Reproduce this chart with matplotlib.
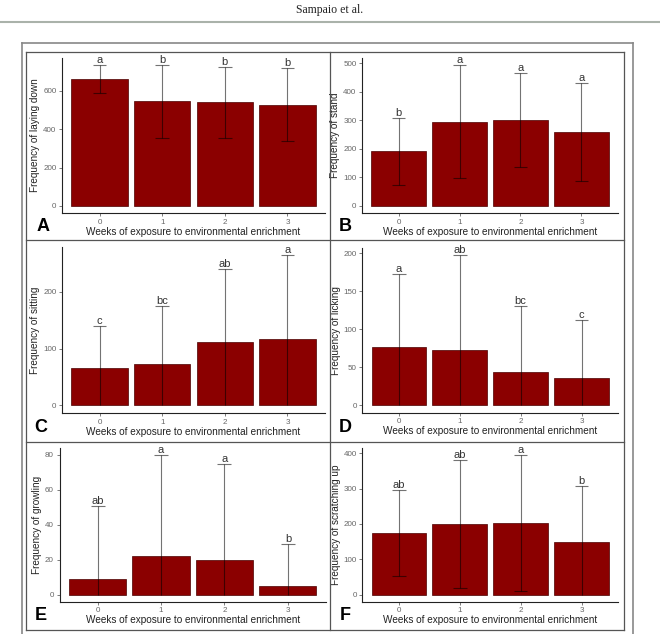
import numpy as np
import matplotlib
matplotlib.use("Agg")
import matplotlib.pyplot as plt
from matplotlib.lines import Line2D
from matplotlib.ticker import MultipleLocator

plt.rcParams['font.family'] = ['Liberation Sans', 'DejaVu Sans']

weeks = ['0', '1', '2', '3']

lay_mean = [659, 545, 539, 527]
lay_sd = [73, 189, 187, 190]
lay_lbl = ['a', 'b', 'b', 'b']

stand_mean = [191, 295, 301, 258]
stand_sd = [117, 198, 163, 171]
stand_lbl = ['b', 'a', 'a', 'a']

sit_mean = [66, 73, 112, 117]
sit_sd = [73, 101, 127, 148]
sit_lbl = ['c', 'bc', 'ab', 'a']

lick_mean = [76, 72, 44, 35]
lick_sd = [96, 125, 86, 77]
lick_lbl = ['a', 'ab', 'bc', 'c']

growl_mean = [9, 22, 20, 5]
growl_sd = [41.5, 58, 55, 24]
growl_lbl = ['ab', 'a', 'a', 'b']

scratch_mean = [174, 199, 203, 150]
scratch_sd = [122, 181, 192, 157]
scratch_lbl = ['ab', 'ab', 'a', 'b']

W, H = 660, 634
fig = plt.figure(figsize=(W / 100, H / 100), dpi=100)


def fx(px):
    return px / W


def fy(py):
    return 1 - py / H


def hline(y, x0, x1, **kw):
    fig.add_artist(Line2D([fx(x0), fx(x1)], [fy(y), fy(y)], transform=fig.transFigure, **kw))


def vline(x, y0, y1, **kw):
    fig.add_artist(Line2D([fx(x), fx(x)], [fy(y0), fy(y1)], transform=fig.transFigure, **kw))


# page header
fig.text(0.5, fy(10), 'Sampaio et al.', ha='center', va='center', fontsize=8.5,
         family='Liberation Serif', color='#222222')
hline(22, 0, W, color='#aab2aa', lw=1.5)

# outer + inner frame of the figure table
fcol = '#888888'
hline(43, 22, 633, color=fcol, lw=1.2)
vline(22, 43, 640, color=fcol, lw=1.2)
vline(633, 43, 640, color=fcol, lw=1.2)
icol = '#555555'
hline(52, 25.5, 624, color=icol, lw=0.9)
hline(630, 25.5, 624, color=icol, lw=0.9)
vline(25.5, 52, 630, color=icol, lw=0.9)
vline(624, 52, 630, color=icol, lw=0.9)
vline(330, 52, 630, color=icol, lw=0.9)
hline(240, 25.5, 624, color=icol, lw=0.9)
hline(442, 25.5, 624, color=icol, lw=0.9)


def panel(box, means, sds, lbls, ylabel, step, letter, letter_xy):
    left, top, right, bottom = box
    ax = fig.add_axes([fx(left), fy(bottom), fx(right) - fx(left), (bottom - top) / H])
    x = np.arange(len(weeks))
    means = np.array(means, dtype=float)
    sds = np.array(sds, dtype=float)
    lo = np.maximum(means - sds, 0)
    hi = means + sds
    ax.bar(x, means, width=0.9, color='#8b0000', edgecolor='#4a0000', linewidth=0.5, zorder=2)
    ecol = (0, 0, 0, 0.55)
    ax.vlines(x, lo, hi, colors=[ecol], linewidth=0.8, zorder=3)
    cw = 0.11
    ax.hlines(hi, x - cw, x + cw, colors=[ecol], linewidth=0.8, zorder=3)
    keep = lo > 0
    ax.hlines(lo[keep], x[keep] - cw, x[keep] + cw, colors=[ecol], linewidth=0.8, zorder=3)
    top_val = hi.max()
    ax.set_ylim(-0.05 * top_val, 1.05 * top_val)
    ax.set_xlim(-0.6, len(weeks) - 0.4)
    for xi, h, t in zip(x, hi, lbls):
        ax.text(xi, h, t, ha='center', va='bottom', fontsize=8, color='#333333')
    ax.set_xticks(x)
    ax.set_xticklabels(weeks)
    ax.yaxis.set_major_locator(MultipleLocator(step))
    for s in ['top', 'right']:
        ax.spines[s].set_visible(False)
    for s in ['left', 'bottom']:
        ax.spines[s].set_color('#222222')
        ax.spines[s].set_linewidth(0.8)
    ax.tick_params(length=2.5, width=0.6, colors='#666666', labelsize=5.8, pad=1.5)
    ax.set_xlabel('Weeks of exposure to environmental enrichment', fontsize=7.2, color='#222222', labelpad=1)
    ax.set_ylabel(ylabel, fontsize=7.2, color='#222222', labelpad=2)
    fig.text(fx(letter_xy[0]), fy(letter_xy[1]), letter, ha='center', va='center',
             fontsize=13, fontweight='bold', color='black')
    return ax


panel((62, 58, 325, 213), lay_mean, lay_sd, lay_lbl, 'Frequency of laying down', 200, 'A', (43.5, 226.5))
panel((362, 58, 618, 213), stand_mean, stand_sd, stand_lbl, 'Frequency of stand', 100, 'B', (345, 226.5))
panel((62, 247, 325, 413), sit_mean, sit_sd, sit_lbl, 'Frequency of sitting', 100, 'C', (41, 427))
panel((362.5, 248, 618, 412.5), lick_mean, lick_sd, lick_lbl, 'Frequency of licking', 50, 'D', (345, 427))
panel((59.5, 448, 326, 601.5), growl_mean, growl_sd, growl_lbl, 'Frequency of growling', 20, 'E', (41, 616))
panel((362.5, 448, 618, 601.5), scratch_mean, scratch_sd, scratch_lbl, 'Frequency of scratching up', 100, 'F', (345, 616))

fig.savefig('out.png', dpi=100)
